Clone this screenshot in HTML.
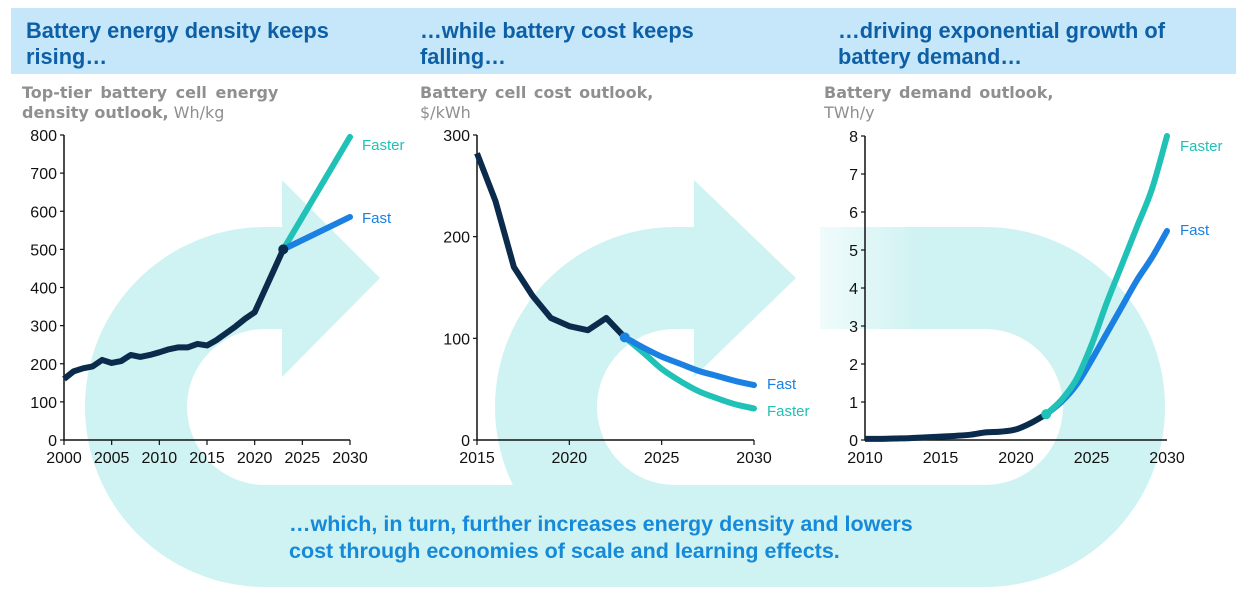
<!DOCTYPE html>
<html><head><meta charset="utf-8"><style>
body{margin:0;width:1248px;height:600px;background:#fff;overflow:hidden;font-family:"Liberation Sans",sans-serif}
</style></head><body>
<svg id="c" width="1248" height="600" viewBox="0 0 1248 600" xmlns="http://www.w3.org/2000/svg">
<defs>
<linearGradient id="fade" x1="820" x2="920" y1="0" y2="0" gradientUnits="userSpaceOnUse">
<stop offset="0" stop-color="#cff2f2" stop-opacity="0.3"/><stop offset="1" stop-color="#cff2f2"/></linearGradient>
</defs>
<g fill="#cff2f2">
<path d="M265 227 A180 180 0 0 0 265 587 L265 485 A78 78 0 0 1 265 329 Z"/>
<path d="M264 227 H282 V180 L380 278 L282 377 V329 H264 Z"/>
<path d="M675 227 A180 180 0 0 0 675 587 L675 485 A78 78 0 0 1 675 329 Z"/>
<path d="M674 227 H694 V180 L796 278 L694 377 V329 H674 Z"/>
<rect x="264" y="485" width="722" height="102"/>
<path d="M985 227 A180 180 0 0 1 985 587 L985 485 A78 78 0 0 0 985 329 Z"/>
<rect x="820" y="227" width="166" height="102" fill="url(#fade)"/>
</g>
<rect x="11" y="8" width="1225" height="66" fill="#c6e7f9"/>
<g font-weight="bold" font-size="21.8" fill="#0d5fa6">
<text x="26" y="38"><tspan x="26">Battery energy density keeps</tspan><tspan x="26" dy="26">rising…</tspan></text>
<text x="420" y="38"><tspan x="420">…while battery cost keeps</tspan><tspan x="420" dy="26">falling…</tspan></text>
<text x="838" y="38"><tspan x="838">…driving exponential growth of</tspan><tspan x="838" dy="26">battery demand…</tspan></text>
</g>
<g font-family="DejaVu Sans, sans-serif" font-size="16" fill="#8f8f8f">
<text y="98"><tspan x="22" font-weight="bold" word-spacing="3">Top-tier battery cell energy</tspan><tspan x="22" dy="20" font-weight="bold">density outlook,</tspan><tspan> Wh/kg</tspan></text>
<text y="98"><tspan x="420" font-weight="bold" word-spacing="2">Battery cell cost outlook,</tspan><tspan x="420" dy="20">$/kWh</tspan></text>
<text y="98"><tspan x="824" font-weight="bold" word-spacing="2">Battery demand outlook,</tspan><tspan x="824" dy="20">TWh/y</tspan></text>
</g>
<g id="charts"></g>
<g font-weight="bold" font-size="21.5" fill="#168ad8">
<text><tspan x="289" y="531">…which, in turn, further increases energy density and lowers</tspan><tspan x="289" y="558">cost through economies of scale and learning effects.</tspan></text>
</g>
</svg>
<script>
// Chart 1: energy density
const c1Years=[2000,2001,2002,2003,2004,2005,2006,2007,2008,2009,2010,2011,2012,2013,2014,2015,2016,2017,2018,2019,2020,2021,2022,2023];
const c1Hist=[160,180,188,193,210,202,207,223,218,223,230,238,243,243,252,248,262,280,298,318,335,390,445,500];
const c1FcYears=[2023,2030];
const c1Fast=[500,585];
const c1Faster=[500,795];
const c1XTicks=[2000,2005,2010,2015,2020,2025,2030];
const c1YTicks=[0,100,200,300,400,500,600,700,800];
// Chart 2: cost
const c2Years=[2015,2016,2017,2018,2019,2020,2021,2022,2023];
const c2Hist=[282,235,170,142,120,112,108,120,101];
const c2FcYears=[2023,2024,2025,2026,2027,2028,2029,2030];
const c2Fast=[101,91,82,75,68,63,58,54];
const c2Faster=[101,86,70,58,48,41,35,31];
const c2XTicks=[2015,2020,2025,2030];
const c2YTicks=[0,100,200,300];
// Chart 3: demand
const c3Years=[2010,2011,2012,2013,2014,2015,2016,2017,2018,2019,2020,2021,2022];
const c3Hist=[0.03,0.03,0.04,0.05,0.07,0.09,0.11,0.14,0.2,0.22,0.28,0.45,0.68];
const c3FcYears=[2022,2023,2024,2025,2026,2027,2028,2029,2030];
const c3Fast=[0.68,1.0,1.45,2.1,2.8,3.5,4.2,4.8,5.5];
const c3Faster=[0.68,1.05,1.6,2.5,3.6,4.6,5.6,6.6,8.0];
const c3XTicks=[2010,2015,2020,2025,2030];
const c3YTicks=[0,1,2,3,4,5,6,7,8];

const NS="http://www.w3.org/2000/svg";
const root=document.getElementById('charts');
function mk(tag,attrs,parent){const e=document.createElementNS(NS,tag);for(const k in attrs)e.setAttribute(k,attrs[k]);parent.appendChild(e);return e;}
function linePath(xs,ys,sx,sy,smooth){
  const p=xs.map((x,i)=>[sx(x),sy(ys[i])]);
  let d='M'+p[0][0]+' '+p[0][1];
  if(!smooth||p.length<3){for(let i=1;i<p.length;i++)d+=' L'+p[i][0]+' '+p[i][1];return d;}
  for(let i=0;i<p.length-1;i++){
    const p0=p[Math.max(0,i-1)],p1=p[i],p2=p[i+1],p3=p[Math.min(p.length-1,i+2)];
    const c1x=p1[0]+(p2[0]-p0[0])/6,c1y=p1[1]+(p2[1]-p0[1])/6,c2x=p2[0]-(p3[0]-p1[0])/6,c2y=p2[1]-(p3[1]-p1[1])/6;
    d+=` C${c1x} ${c1y} ${c2x} ${c2y} ${p2[0]} ${p2[1]}`;
  }
  return d;
}
function chart(cfg){
  const g=mk('g',{},root);
  
  
  const sx=v=>cfg.x0+(v-cfg.xmin)/(cfg.xmax-cfg.xmin)*(cfg.x1-cfg.x0);
  const sy=v=>cfg.y0-(v-cfg.ymin)/(cfg.ymax-cfg.ymin)*(cfg.y0-cfg.y1);
  const ax=mk('path',{d:`M${cfg.x0} ${cfg.y1} V${cfg.y0} H${cfg.x1}`,stroke:'#111',fill:'none','stroke-width':1.5},g);
  
  
  cfg.yt.forEach(v=>{
    mk('line',{x1:cfg.x0-4,x2:cfg.x0,y1:sy(v),y2:sy(v),stroke:'#111','stroke-width':1.2},g);
    const t=mk('text',{x:cfg.x0-7,y:sy(v)+6,'text-anchor':'end','font-size':16,fill:'#111'},g);
    
    
    t.textContent=v;
  });
  cfg.xt.forEach(v=>{
    mk('line',{x1:sx(v),x2:sx(v),y1:cfg.y0,y2:cfg.y0+(cfg.tickDown?5:0),stroke:'#111','stroke-width':1.2},g);
    const t=mk('text',{x:sx(v),y:cfg.y0+23,'text-anchor':'middle','font-size':16,fill:'#111'},g);
    
    
    t.textContent=v;
  });
  const hist=mk('path',{d:linePath(cfg.hx,cfg.hy,sx,sy,cfg.smooth),stroke:'#0b2b4c','stroke-width':6,fill:'none','stroke-linejoin':'round'},g);
  
  
  const order=cfg.fasterOnTop?[['fast',cfg.fast,'#1a80e2'],['faster',cfg.faster,'#20c1b6']]:[['faster',cfg.faster,'#20c1b6'],['fast',cfg.fast,'#1a80e2']];
  order.forEach(([n,ys,col])=>{
    const p=mk('path',{d:linePath(cfg.fx,ys,sx,sy,true),stroke:col,'stroke-width':6,fill:'none','stroke-linecap':'round'},g);
    
    
  });
  const dot=mk('circle',{cx:sx(cfg.fx[0]),cy:sy(cfg.fast[0]),r:5,fill:cfg.dotColor},g);
  
  
  cfg.labels.forEach(([txt,col,x,y])=>{
    const t=mk('text',{x:x,y:y,'font-size':15,fill:col},g);
    
    
    t.textContent=txt;
  });
}
chart({name:'energy-density-chart',x0:64,x1:350,y0:440,y1:135,xmin:2000,xmax:2030,ymin:0,ymax:800,xt:c1XTicks,yt:c1YTicks,hx:c1Years,hy:c1Hist,fx:c1FcYears,fast:c1Fast,faster:c1Faster,dotColor:'#0b2b4c',tickDown:true,smooth:false,
  labels:[['Faster','#20c1b6',362,150],['Fast','#1a80e2',362,223]]});
chart({name:'cell-cost-chart',x0:477,x1:754,y0:440,y1:135,xmin:2015,xmax:2030,ymin:0,ymax:300,xt:c2XTicks,yt:c2YTicks,hx:c2Years,hy:c2Hist,fx:c2FcYears,fast:c2Fast,faster:c2Faster,dotColor:'#1a80e2',tickDown:true,smooth:false,fasterOnTop:false,
  labels:[['Fast','#1a80e2',767,389],['Faster','#20c1b6',767,416]]});
chart({name:'battery-demand-chart',x0:865,x1:1167,y0:440,y1:136,xmin:2010,xmax:2030,ymin:0,ymax:8,xt:c3XTicks,yt:c3YTicks,hx:c3Years,hy:c3Hist,fx:c3FcYears,fast:c3Fast,faster:c3Faster,dotColor:'#20c1b6',tickDown:false,smooth:true,fasterOnTop:true,
  labels:[['Faster','#20c1b6',1180,151],['Fast','#1a80e2',1180,235]]});
</script>
</body></html>
